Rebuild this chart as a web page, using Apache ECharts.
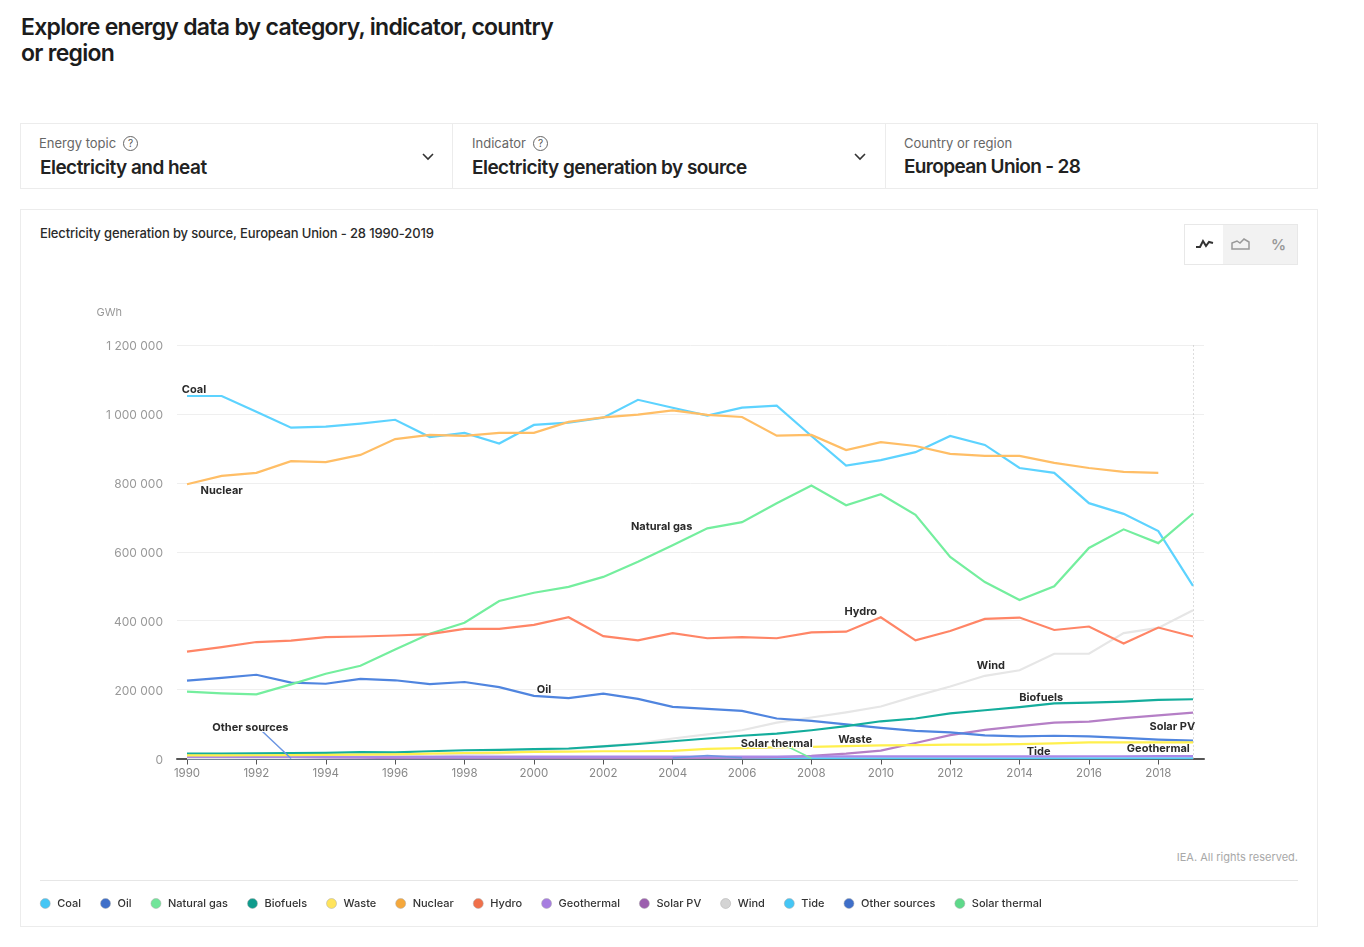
<!DOCTYPE html>
<html><head><meta charset="utf-8">
<script src="https://cdn.jsdelivr.net/npm/echarts@6/dist/echarts.min.js"></script>
<style>
html,body{margin:0;padding:0;background:#fff;width:1364px;height:947px;overflow:hidden;font-family:Inter,"Noto Sans",sans-serif;color:#222}
#chart{position:absolute;left:0;top:0;width:1364px;height:947px}
.abs{position:absolute;white-space:nowrap}
.box{position:absolute;border:1px solid #ececec;box-sizing:border-box}
.h1{left:21px;top:13.5px;font-size:23px;line-height:26.5px;font-weight:600;letter-spacing:-.72px;color:#1c1c1c}
.sm{font-size:13px;color:#666;top:135px}
.big{font-size:19px;font-weight:600;top:155.5px;letter-spacing:-.53px;color:#222}
.q{display:inline-block;width:13px;height:13px;border:1px solid #666;border-radius:50%;font-size:10px;line-height:13px;text-align:center;position:absolute;top:136px;color:#555}
</style></head><body>
<div class="abs h1">Explore energy data by category, indicator, country<br>or region</div>
<div class="box" style="left:20px;top:123px;width:1298px;height:66px"></div>
<div class="abs" style="left:452px;top:123px;width:1px;height:66px;background:#ececec"></div>
<div class="abs" style="left:885px;top:123px;width:1px;height:66px;background:#ececec"></div>
<div class="abs sm" style="left:39px">Energy topic</div><span class="q" style="left:123px">?</span>
<div class="abs big" style="left:40px">Electricity and heat</div>
<div class="abs sm" style="left:472px">Indicator</div><span class="q" style="left:533px">?</span>
<div class="abs big" style="left:472px">Electricity generation by source</div>
<div class="abs sm" style="left:904px">Country or region</div>
<div class="abs big" style="left:904px;top:155px;letter-spacing:-.65px">European Union - 28</div>
<svg class="abs" style="left:421px;top:151px" width="14" height="12"><path d="M2 3l5 5 5-5" fill="none" stroke="#333" stroke-width="1.6"/></svg>
<svg class="abs" style="left:853px;top:151px" width="14" height="12"><path d="M2 3l5 5 5-5" fill="none" stroke="#333" stroke-width="1.6"/></svg>
<div class="box" style="left:20px;top:209px;width:1298px;height:718px"></div>
<div class="abs" style="left:40px;top:225px;font-size:13px;font-weight:500;letter-spacing:-.13px;color:#2a2a2a">Electricity generation by source, European Union - 28 1990-2019</div>
<div class="box" style="left:1184px;top:224px;width:114px;height:41px;background:#f2f2f2;border-color:#e8e8e8"></div>
<div class="abs" style="left:1185px;top:225px;width:38px;height:39px;background:#fff"></div>
<svg class="abs" style="left:1195px;top:236px" width="20" height="16"><path d="M1 11h4l3-6 3 5 3-4 4 1" fill="none" stroke="#333" stroke-width="2"/></svg>
<svg class="abs" style="left:1231px;top:236px" width="20" height="16"><path d="M1 13V7l5-2 3 2 4-4 5 3v7z" fill="none" stroke="#999" stroke-width="1.5"/></svg>
<div class="abs" style="left:1271px;top:235px;font-size:15px;font-weight:600;color:#999">%</div>
<div class="abs" style="right:66px;top:850px;font-size:11px;color:#a8a8a8">IEA. All rights reserved.</div>
<div class="abs" style="left:40px;top:880px;width:1258px;height:1px;background:#e6e6e6"></div>
<div id="chart"></div>
<script>
const years = ["1990","1991","1992","1993","1994","1995","1996","1997","1998","1999","2000","2001","2002","2003","2004","2005","2006","2007","2008","2009","2010","2011","2012","2013","2014","2015","2016","2017","2018","2019"];
const coal = [1052000,1052000,1006000,960000,963000,972000,983000,933000,945000,914000,968000,975000,989000,1041000,1018000,995000,1018000,1024000,936000,850000,866000,889000,936000,910000,843000,829000,741000,710000,660000,501000];
const oil = [226000,234000,243000,220000,217000,231000,227000,216000,222000,207000,182000,175000,188000,173000,150000,144000,138000,116000,109000,99000,89000,80000,76000,67000,64000,66000,64000,60000,55000,52000];
const naturalGas = [194000,189000,186000,215000,246000,269000,316000,362000,394000,457000,481000,498000,527000,571000,619000,668000,686000,741000,792000,735000,767000,707000,585000,512000,460000,500000,611000,665000,625000,711000];
const biofuels = [14000,14000,15000,15500,16500,18500,18000,21000,24000,25000,27000,29000,35000,42000,50000,58000,66000,72000,82000,94000,108000,116000,131000,140000,149000,160000,162000,165000,170000,172000];
const waste = [9000,9000,9500,10000,10500,11000,12000,14000,16000,17000,19000,20000,21000,21000,22000,28000,30000,32000,34000,36000,38000,39000,40000,40000,42000,44000,47000,47000,47000,47000];
const nuclear = [796000,820000,829000,863000,860000,881000,927000,939000,936000,945000,945000,977000,990000,998000,1010000,997000,991000,937000,939000,895000,918000,907000,884000,878000,878000,858000,843000,832000,829000,null];
const hydro = [310000,323000,338000,342000,352000,354000,357000,361000,376000,376000,388000,410000,355000,343000,364000,349000,352000,349000,366000,368000,410000,343000,370000,405000,409000,373000,383000,334000,380000,354000];
const geothermal = [4500,4600,4700,4800,4900,5000,5000,5100,5200,5200,5300,5400,5500,5500,5600,5600,5700,5800,5800,5900,6000,6000,6100,6200,6300,6400,6500,6600,6700,6800];
const solarPV = [0,0,0,0,0,0,0,0,0,0,100,200,300,500,700,1500,2500,4000,7500,14000,23000,45000,68000,83000,94000,104000,107000,117000,125000,133000];
const wind = [800,1000,1500,2000,3000,4000,5500,7500,12000,15000,22000,27000,36000,44000,58000,70000,82000,104000,119000,134000,151000,181000,209000,240000,256000,304000,304000,364000,379000,430000];
const tide = [500,500,500,500,500,500,500,500,500,500,500,500,500,500,500,500,500,500,500,500,500,500,500,500,500,500,500,500,500,500];
const otherSources = [null,null,95000,0,null,null,null,null,null,null,null,null,null,null,1500,9000,2000,null,null,null,null,null,null,null,null,null,null,null,null,null];
const solarThermal = [null,null,null,null,null,null,null,null,null,null,null,null,null,null,null,null,null,50000,800,null,null,null,null,null,null,null,null,null,null,null];

const seriesTable = [
 ["Coal",coal,"#5dd3ff","#45c6f5"],
 ["Oil",oil,"#5085df","#3f6fc9"],
 ["Natural gas",naturalGas,"#74ee9e","#72e59a"],
 ["Biofuels",biofuels,"#14ad9c","#0f9b8c"],
 ["Waste",waste,"#fff04d","#ffe45c"],
 ["Nuclear",nuclear,"#ffbe66","#f5a83c"],
 ["Hydro",hydro,"#ff8566","#f0704a"],
 ["Geothermal",geothermal,"#aa88e8","#a77ee0"],
 ["Solar PV",solarPV,"#b57fc6","#9c5fae"],
 ["Wind",wind,"#e6e6e6","#d4d4d4"],
 ["Tide",tide,"#52cdf5","#45c6f5"],
 ["Other sources",otherSources,"#6c96e2","#3f6fc9"],
 ["Solar thermal",solarThermal,"#74ee9e","#5ed98a"]
];
const drawOrder = {"Tide":1,"Solar PV":2,"Wind":2,"Geothermal":3};
// series name -> [year carrying the label, label offset]
const seriesLabels = {
 "Coal":["1990",[7,-6]],"Nuclear":["1991",[0,15]],"Natural gas":["2004",[-11,-19]],
 "Hydro":["2010",[-20,-6]],"Wind":["2013",[6,-10]],"Biofuels":["2015",[-13,-6]],
 "Solar PV":["2018",[14,11]],"Geothermal":["2018",[0,-8]],"Tide":["2014",[19,-7]],
 "Waste":["2009",[9,-6]],"Solar thermal":["2007",[0,2]],"Oil":["2000",[10,-6]],
 "Other sources":["1992",[-6,2]]
};
const series = seriesTable.map(([name,vals,color],i)=>{
  const spec = seriesLabels[name];
  return {
    name, type:"line", xAxisIndex:1, yAxisIndex:1, showSymbol:true, symbol:"circle", symbolSize:0,
    showAllSymbol:true, animation:false, silent:true, z:drawOrder[name]||4+i, connectNulls:false,
    lineStyle:{color,width:name==="Other sources"||name==="Solar thermal"?1.5:2.2,join:"miter"},
    itemStyle:{color},
    data: vals.map((v,j)=> years[j]===spec[0] ? {value:v,label:{show:true,position:"inside",offset:spec[1],formatter:name,
      fontFamily:"Inter",fontSize:11,fontWeight:700,color:"#2b2b2b",textBorderColor:"#fff",textBorderWidth:2}} : v),
    markLine: i===0 ? {silent:true,symbol:"none",label:{show:false},animation:false,
      lineStyle:{color:"#bbb",type:[1,3],width:1},data:[{xAxis:"2019"}]} : undefined
  };
});
const chart = echarts.init(document.getElementById("chart"),null,{renderer:"canvas"});
chart.setOption({
  animation:false,
  grid:[
    {left:177,right:160,top:345,height:413.5},
    {left:187,right:171,top:345,height:413.5},
    {left:177,right:160,top:346.5,height:413.5}
  ],
  xAxis:[
    {gridIndex:0,type:"value",min:0,max:1,axisLine:{show:true,lineStyle:{color:"#555",width:2}},axisTick:{show:false},axisLabel:{show:false},splitLine:{show:false}},
    {gridIndex:1,type:"category",boundaryGap:false,data:years,axisLine:{show:false},
     axisTick:{show:true,alignWithLabel:true,interval:1,length:6,lineStyle:{color:"#555",width:1}},
     axisLabel:{interval:1,margin:9,fontFamily:"Inter",fontSize:11.5,color:"#888"},splitLine:{show:false}},
    {gridIndex:2,type:"value",min:0,max:1,show:false}
  ],
  yAxis:[
    {gridIndex:0,type:"value",min:0,max:1200000,interval:200000,name:"GWh",nameLocation:"end",nameGap:27,
     nameTextStyle:{fontFamily:"Inter",fontSize:11,color:"#999",align:"right",padding:[0,55,0,0]},
     axisLine:{show:false},axisTick:{show:false},axisLabel:{show:false},
     splitLine:{show:true,lineStyle:{color:"#efefef",width:1}}},
    {gridIndex:1,type:"value",min:0,max:1200000,interval:200000,show:false,splitLine:{show:false}},
    {gridIndex:2,type:"value",min:0,max:1200000,interval:200000,axisLine:{show:false},axisTick:{show:false},splitLine:{show:false},
     axisLabel:{margin:14,fontFamily:"Inter",fontSize:12,color:"#999",formatter:v=>String(v).replace(/\B(?=(\d{3})+$)/g," ")}}
  ],
  legend:{left:35,top:893,orient:"horizontal",icon:"circle",itemWidth:10,itemHeight:10,itemGap:19.2,selectedMode:false,
    textStyle:{fontFamily:"Inter",fontSize:11,fontWeight:500,color:"#333",padding:[0,0,0,2]},
    data:seriesTable.map(([name,,,lc])=>({name,icon:"circle",itemStyle:{color:lc,borderColor:"#aaa",borderWidth:.5}}))},
  series
});
</script>
</body></html>
